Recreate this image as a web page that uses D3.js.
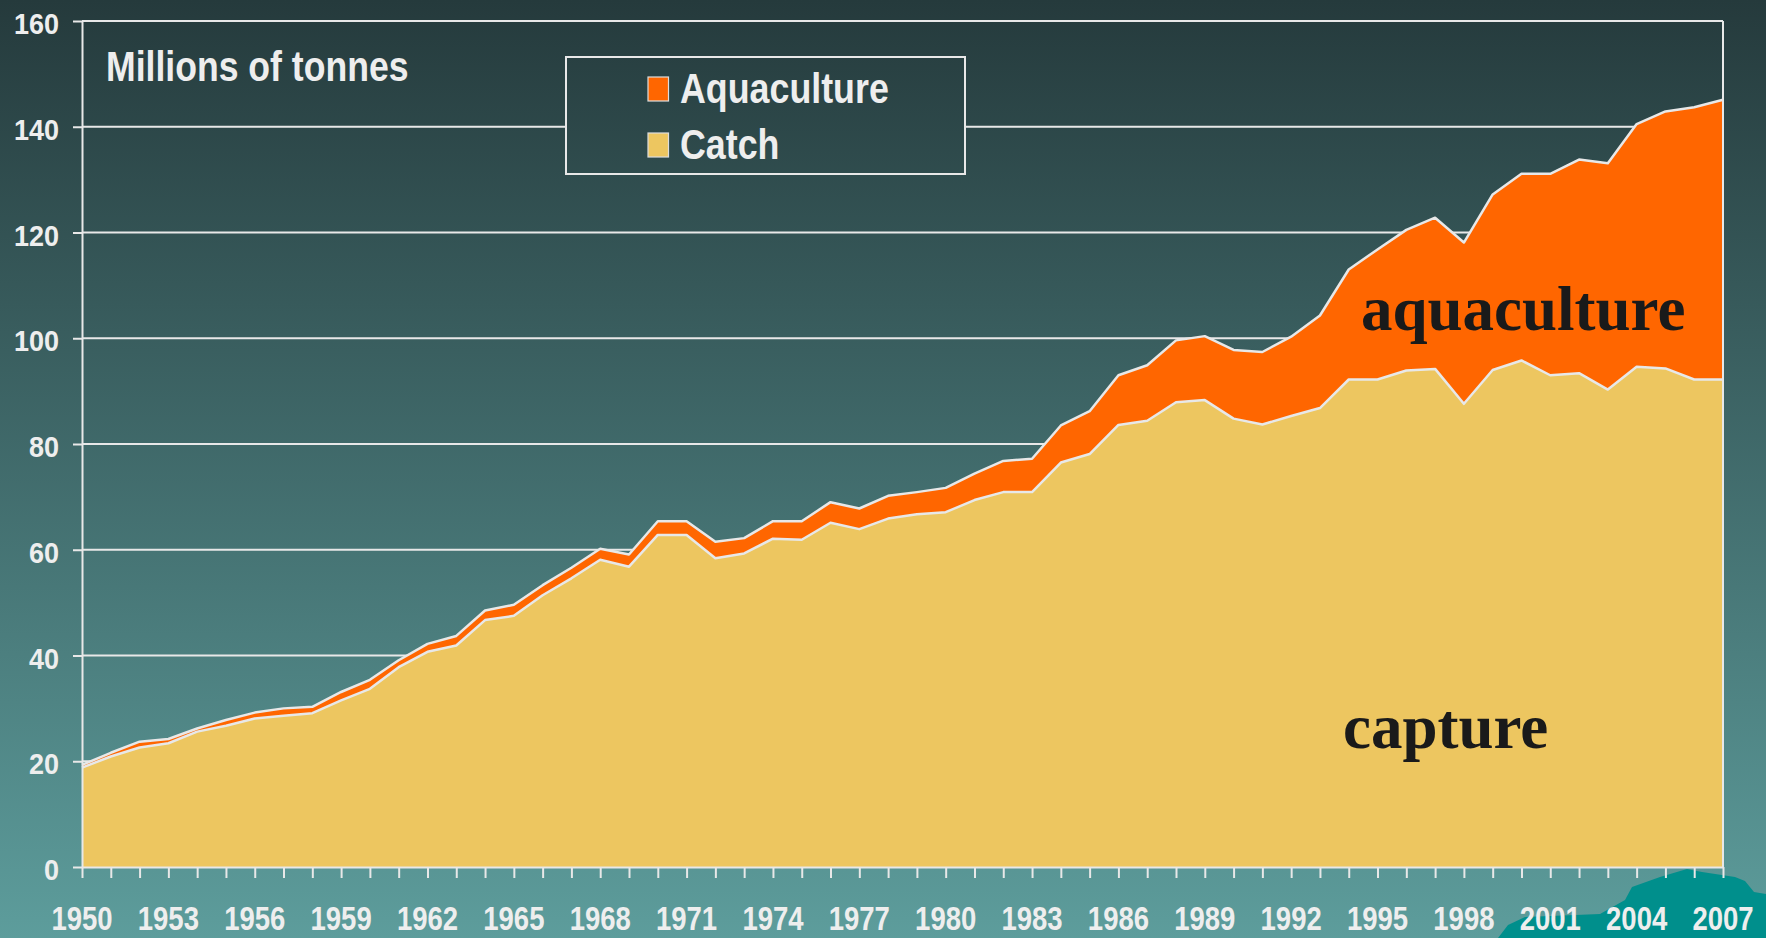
<!DOCTYPE html>
<html>
<head>
<meta charset="utf-8">
<script src="https://cdn.jsdelivr.net/npm/d3@7"></script>
<style>
  html, body { margin: 0; padding: 0; background: #263b3d; }
  svg { display: block; }
</style>
</head>
<body>
<div id="chart"></div>
<script>
// world fish production, millions of tonnes
const years = d3.range(1950, 2008);
const catchValues = [
  18.8, 20.9, 22.6, 23.4, 25.6, 26.7, 28.1, 28.6, 29.1, 31.5,
  33.7, 37.8, 40.7, 41.9, 46.7, 47.5, 51.4, 54.6, 58.1, 56.8,
  62.8, 62.8, 58.4, 59.3, 62.1, 61.9, 65.1, 63.9, 65.9, 66.7,
  67.1, 69.4, 70.9, 70.9, 76.5, 78.1, 83.6, 84.4, 87.9, 88.3,
  84.8, 83.7, 85.3, 86.8, 92.2, 92.2, 93.9, 94.2, 87.6, 94.0,
  95.8, 93.0, 93.4, 90.3, 94.6, 94.3, 92.2, 92.2
];
const aquacultureValues = [
  0.5, 0.7, 1.1, 0.8, 0.6, 1.1, 1.1, 1.4, 1.2, 1.6,
  1.7, 1.3, 1.5, 1.8, 1.8, 2.1, 1.9, 2.0, 2.1, 2.3,
  2.6, 2.6, 3.1, 2.9, 3.3, 3.5, 3.9, 3.9, 4.3, 4.2,
  4.6, 5.0, 5.9, 6.3, 7.0, 8.1, 9.4, 10.5, 11.7, 12.1,
  13.0, 13.7, 15.0, 17.5, 20.8, 24.6, 26.6, 28.6, 30.5, 33.2,
  35.3, 38.1, 40.4, 42.8, 45.9, 48.6, 51.5, 52.9
];
const xLabels = [1950, 1953, 1956, 1959, 1962, 1965, 1968, 1971, 1974, 1977,
  1980, 1983, 1986, 1989, 1992, 1995, 1998, 2001, 2004, 2007];
const yTicks = [0, 20, 40, 60, 80, 100, 120, 140, 160];
const legendNames = ['Aquaculture', 'Catch'];

const W = 1766, H = 938;
const margin = {top: 21, right: 43, bottom: 71, left: 82};
const colors = {catch: '#edc660', aquaculture: '#ff6600'};
const light = '#e8e8e8';

const table = years.map((yr, i) => ({year: yr, catch: catchValues[i], aquaculture: aquacultureValues[i]}));
const stacked = d3.stack().keys(['catch', 'aquaculture'])(table);

const x = d3.scaleLinear().domain([1950, 2007]).range([margin.left, W - margin.right]);
const y = d3.scaleLinear().domain([0, 160]).range([H - margin.bottom, margin.top]);

const svg = d3.select('#chart').append('svg')
    .attr('width', W)
    .attr('height', H);

const grad = svg.append('defs').append('linearGradient')
    .attr('id', 'bg')
    .attr('gradientUnits', 'userSpaceOnUse')
    .attr('x1', 0).attr('y1', 0).attr('x2', 0).attr('y2', H);
grad.append('stop').attr('offset', '0%').attr('stop-color', '#253a3c');
grad.append('stop').attr('offset', '100%').attr('stop-color', '#5d9d9c');

svg.append('rect')
    .attr('width', W)
    .attr('height', H)
    .attr('fill', 'url(#bg)');

// decorative island bottom right
svg.append('path')
    .attr('d', 'M1498,938 L1508,925 L1525,917 L1600,914 L1625,900 L1632,887 L1660,877 L1687,869 L1702,872 L1735,877 L1745,881 L1754,892 L1766,894 L1766,938 Z')
    .attr('fill', '#008f8c');

// gridlines
svg.append('g').selectAll('line')
    .data(yTicks.filter(d => d > 0))
    .enter().append('line')
    .attr('x1', x(1950))
    .attr('x2', x(2007))
    .attr('y1', d => y(d))
    .attr('y2', d => y(d))
    .attr('stroke', light)
    .attr('stroke-width', 2);

const area = d3.area()
    .x(d => x(d.data.year))
    .y0(d => y(d[0]))
    .y1(d => y(d[1]));
const line = d3.line()
    .x(d => x(d.data.year))
    .y(d => y(d[1]));

const layers = svg.append('g');
layers.selectAll('path.area')
    .data(stacked)
    .enter().append('path')
    .attr('class', 'area')
    .attr('d', area)
    .attr('fill', d => colors[d.key]);
layers.selectAll('path.edge')
    .data(stacked)
    .enter().append('path')
    .attr('class', 'edge')
    .attr('d', line)
    .attr('fill', 'none')
    .attr('stroke', light)
    .attr('stroke-width', 2.5)
    .attr('stroke-linejoin', 'round');

// right frame
svg.append('line')
    .attr('x1', x(2007)).attr('x2', x(2007))
    .attr('y1', y(160)).attr('y2', y(0))
    .attr('stroke', light)
    .attr('stroke-width', 2);

const xAxis = d3.axisBottom(x).tickValues(years).tickSize(11).tickSizeOuter(0).tickFormat('');
const yAxis = d3.axisLeft(y).tickValues(yTicks).tickSize(9).tickSizeOuter(0).tickFormat('');

const gx = svg.append('g')
    .attr('transform', `translate(0,${y(0)})`)
    .call(xAxis);
const gy = svg.append('g')
    .attr('transform', `translate(${x(1950)},0)`)
    .call(yAxis);
[gx, gy].forEach(g => {
    g.selectAll('path, line').attr('stroke', light).attr('stroke-width', 2);
});

const labelFont = '"Liberation Sans", Arial, sans-serif';

svg.append('g').selectAll('text')
    .data(xLabels)
    .enter().append('text')
    .attr('transform', d => `translate(${x(d)},930) scale(1,1.2)`)
    .attr('text-anchor', 'middle')
    .attr('font-family', labelFont)
    .attr('font-weight', 'bold')
    .attr('font-size', 27.5)
    .attr('fill', '#eeeeee')
    .text(d => d);

svg.append('g').selectAll('text')
    .data(yTicks)
    .enter().append('text')
    .attr('transform', d => `translate(59,${y(d) + 13}) scale(1,1.1)`)
    .attr('text-anchor', 'end')
    .attr('font-family', labelFont)
    .attr('font-weight', 'bold')
    .attr('font-size', 27)
    .attr('fill', '#eeeeee')
    .text(d => d);

svg.append('text')
    .attr('transform', 'translate(106,81) scale(1,1.2)')
    .attr('font-family', labelFont)
    .attr('font-weight', 'bold')
    .attr('font-size', 35.6)
    .attr('fill', '#eeeeee')
    .text('Millions of tonnes');

// legend
const legend = svg.append('g');
legend.append('rect')
    .attr('x', 566).attr('y', 57)
    .attr('width', 399).attr('height', 117)
    .attr('fill', 'url(#bg)')
    .attr('stroke', light)
    .attr('stroke-width', 2);
const legendColors = [colors.aquaculture, colors.catch];
const item = legend.selectAll('g.item')
    .data(legendNames)
    .enter().append('g')
    .attr('class', 'item')
    .attr('transform', (d, i) => `translate(648,${77 + i * 56})`);
item.append('rect')
    .attr('width', 20.5)
    .attr('height', 24)
    .attr('fill', (d, i) => legendColors[i])
    .attr('stroke', '#dddddd')
    .attr('stroke-width', 1.2);
item.append('text')
    .attr('transform', 'translate(32,26) scale(1,1.2)')
    .attr('font-family', labelFont)
    .attr('font-weight', 'bold')
    .attr('font-size', 35.8)
    .attr('fill', '#eeeeee')
    .text(d => d);

// in-chart annotations
const serif = '"Liberation Serif", "Times New Roman", serif';
svg.append('text')
    .attr('x', 1361).attr('y', 330)
    .attr('font-family', serif)
    .attr('font-weight', 'bold')
    .attr('font-size', 63)
    .attr('fill', '#1a1a1a')
    .text('aquaculture');
svg.append('text')
    .attr('x', 1343).attr('y', 748)
    .attr('font-family', serif)
    .attr('font-weight', 'bold')
    .attr('font-size', 63)
    .attr('fill', '#1a1a1a')
    .text('capture');
</script>
</body>
</html>
